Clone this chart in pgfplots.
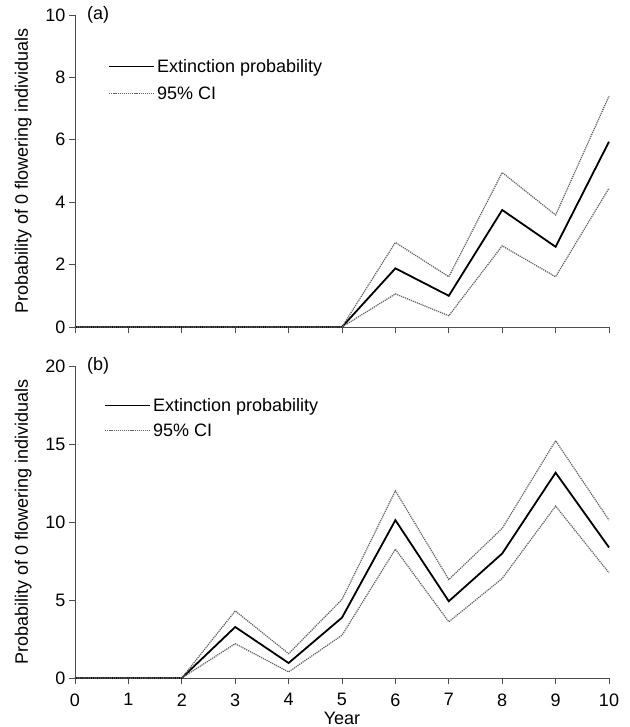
\documentclass[border=0pt]{standalone}
\usepackage{fontspec}
\setmainfont{Liberation Sans}
\usepackage{pgfplots}
\pgfplotsset{compat=1.18}
\pgfplotsset{
 myax/.style={
  scale only axis, width=534pt, height=312pt,
  xmin=0, xmax=10, ymin=0,
  axis x line=bottom, axis y line=left,
  axis line style={-, draw=gray!60!black, line width=0.8pt},
  tick style={draw=gray!60!black, line width=0.8pt},
  tick align=outside, major tick length=6pt,
  xtick={0,...,10},
  clip=false,
  font=\fontsize{18}{21}\selectfont,
  tick label style={font=\fontsize{18}{21}\selectfont},
  /pgf/number format/assume math mode=true,
  ylabel={Probability of 0 flowering individuals},
  ylabel style={yshift=7pt},
  legend cell align=left,
  legend image code/.code={\draw[#1] (0pt,0pt) -- (45pt,0pt);},
  legend style={draw=none, fill=none, at={(axis description cs:0,1)}, anchor=north west,
    row sep=9pt, font=\fontsize{18}{21}\selectfont,
    nodes={inner sep=2pt}},
 },
 meanline/.style={black, line width=1.8pt},
 ciline/.style={gray!75!black, line width=1.2pt, dash pattern=on 1.2pt off 0.9pt},
}
\begin{document}
\begin{tikzpicture}
\useasboundingbox (-75pt,-49pt) rectangle (554pt,678pt);
% bottom panel (b)
\begin{axis}[myax, at={(0pt,0pt)}, anchor=south west,
  ymax=20, ytick={0,5,10,15,20},
  xticklabel style={yshift=-6pt},
  xlabel={Year},
  xlabel style={at={(axis description cs:0.5,0)}, anchor=base, yshift=-46pt, inner sep=0pt},
  legend style={xshift=26pt, yshift=-28pt, row sep=7pt}]
\addplot[meanline] coordinates {(0,0) (1,0) (2,0) (3,3.27) (4,0.96) (5,3.87) (6,10.12) (7,4.92) (8,7.98) (9,13.16) (10,8.37)};
\addlegendentry{Extinction probability}
\addplot[ciline] coordinates {(0,0) (1,0) (2,0) (3,4.30) (4,1.56) (5,5.03) (6,12.0) (7,6.31) (8,9.59) (9,15.21) (10,10.12)};
\addlegendentry{95\% CI}
\addplot[ciline, forget plot] coordinates {(0,0) (1,0) (2,0) (3,2.20) (4,0.39) (5,2.74) (6,8.26) (7,3.60) (8,6.38) (9,11.02) (10,6.74)};
\node[anchor=west, inner sep=0pt] at (rel axis cs:0,1) [xshift=12pt] {(b)};
\end{axis}
% top panel (a)
\begin{axis}[myax, at={(0pt,351pt)}, anchor=south west,
  ymax=10, ytick={0,2,4,6,8,10},
  xticklabels={},
  legend style={xshift=30pt, yshift=-40pt}]
\addplot[meanline] coordinates {(0,0) (1,0) (2,0) (3,0) (4,0) (5,0) (6,1.88) (7,1.0) (8,3.75) (9,2.57) (10,5.94)};
\addlegendentry{Extinction probability}
\addplot[ciline] coordinates {(0,0) (1,0) (2,0) (3,0) (4,0) (5,0) (6,2.71) (7,1.61) (8,4.95) (9,3.59) (10,7.40)};
\addlegendentry{95\% CI}
\addplot[ciline, forget plot] coordinates {(0,0) (1,0) (2,0) (3,0) (4,0) (5,0) (6,1.06) (7,0.36) (8,2.60) (9,1.61) (10,4.45)};
\node[anchor=west, inner sep=0pt] at (rel axis cs:0,1) [xshift=12pt] {(a)};
\end{axis}
\end{tikzpicture}
\end{document}
